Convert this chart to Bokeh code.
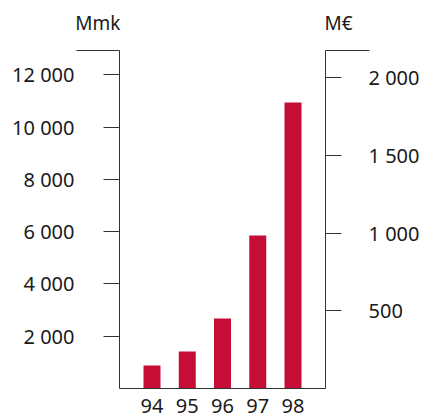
from bokeh.plotting import figure
from bokeh.models import (Range1d, LinearAxis, FixedTicker, ColumnDataSource)
from bokeh.core.properties import value
from bokeh.embed import file_html
from bokeh.resources import INLINE

# ---- data ----
years = ["94", "95", "96", "97", "98"]
values_mmk = [880, 1415, 2680, 5850, 10940]
eur_rate = 5.94573  # mk per euro
left_ticks = [2000, 4000, 6000, 8000, 10000, 12000]
left_tick_labels = ["2 000", "4 000", "6 000", "8 000", "10 000", "12 000"]
right_ticks = [500, 1000, 1500, 2000]
right_tick_labels = ["500", "1 000", "1 500", "2 000"]
left_unit = "Mmk"
right_unit = "M€"

# ---- layout / style ----
W, H = 424, 419
frame_l, frame_r, frame_t, frame_b = 119, 325, 50, 388   # plot box in px
x0_px, step_px = 151.5, 35.25                           # first bar centre, spacing
y_top = 12930                                           # value at the top of the axes
cap_left_px, cap_right_px = 76, 369
bar_color = "#C50D36"
axis_color = "#333333"
text_color = "#1a1a1a"
font = "Noto Sans"
tick_fs = "20px"
unit_fs = "19px"

ppu_y = (frame_b - frame_t) / y_top
def px2x(px):
    return (px - x0_px) / step_px
def px2y(py):
    return (frame_b - py) / ppu_y

idx = list(range(len(years)))

p = figure(width=W, height=H, output_backend="svg", toolbar_location=None,
           x_range=Range1d(px2x(0), px2x(W)), y_range=Range1d(px2y(H), px2y(0)),
           min_border=0, min_border_left=0, min_border_right=0,
           min_border_top=0, min_border_bottom=0,
           x_axis_type=None, y_axis_type=None)
p.outline_line_color = None
p.grid.visible = False
p.background_fill_color = "white"
p.border_fill_color = "white"

src = ColumnDataSource(dict(x=idx, y=values_mmk))
p.vbar(x="x", top="y", width=17 / step_px, source=src,
       fill_color=bar_color, line_color=None)

xl, xr = px2x(frame_l), px2x(frame_r)

# left axis (Mmk)
ya = LinearAxis(ticker=FixedTicker(ticks=left_ticks), fixed_location=xl,
                bounds=(0, y_top))
ya.major_label_overrides = dict(zip(left_ticks, left_tick_labels))
ya.major_tick_out = 16
ya.major_tick_in = 0
ya.minor_tick_out = 0
ya.minor_tick_in = 0
ya.major_label_standoff = 29
ya.axis_line_color = axis_color
ya.major_tick_line_color = axis_color
ya.major_label_text_font = font
ya.major_label_text_font_size = tick_fs
ya.major_label_text_color = text_color
p.add_layout(ya, "left")

# right axis (M€)
p.extra_y_ranges = {"eur": Range1d(px2y(H) / eur_rate, px2y(0) / eur_rate)}
ra = LinearAxis(y_range_name="eur", ticker=FixedTicker(ticks=right_ticks),
                fixed_location=xr, bounds=(0, y_top / eur_rate))
ra.major_label_overrides = dict(zip(right_ticks, right_tick_labels))
ra.major_tick_out = 16
ra.major_tick_in = 0
ra.minor_tick_out = 0
ra.minor_tick_in = 0
ra.major_label_standoff = 27
ra.axis_line_color = axis_color
ra.major_tick_line_color = axis_color
ra.major_label_text_font = font
ra.major_label_text_font_size = tick_fs
ra.major_label_text_color = text_color
p.add_layout(ra, "right")

# bottom axis (years)
xa = LinearAxis(ticker=FixedTicker(ticks=idx), fixed_location=0, bounds=(xl, xr))
xa.major_label_overrides = dict(zip(idx, years))
xa.major_tick_out = 0
xa.major_tick_in = 0
xa.minor_tick_out = 0
xa.minor_tick_in = 0
xa.major_label_standoff = 10
xa.axis_line_color = axis_color
xa.major_label_text_font = font
xa.major_label_text_font_size = tick_fs
xa.major_label_text_color = text_color
p.add_layout(xa, "below")

# caps at the top of the axes
p.segment(x0=[px2x(cap_left_px), xr], y0=[y_top, y_top],
          x1=[xl, px2x(cap_right_px)], y1=[y_top, y_top],
          line_color=axis_color, line_width=1)

# unit labels
unit_y = px2y(22)
p.text(x=[xl + 1 / step_px], y=[unit_y], text=[left_unit], text_align="right",
       text_baseline="alphabetic", text_font=value(font),
       text_font_size=unit_fs, text_color=text_color)
p.text(x=[xr - 1 / step_px], y=[unit_y], text=[right_unit], text_align="left",
       text_baseline="alphabetic", text_font=value(font),
       text_font_size=unit_fs, text_color=text_color)

open("out.html", "w").write(file_html(p, INLINE))
